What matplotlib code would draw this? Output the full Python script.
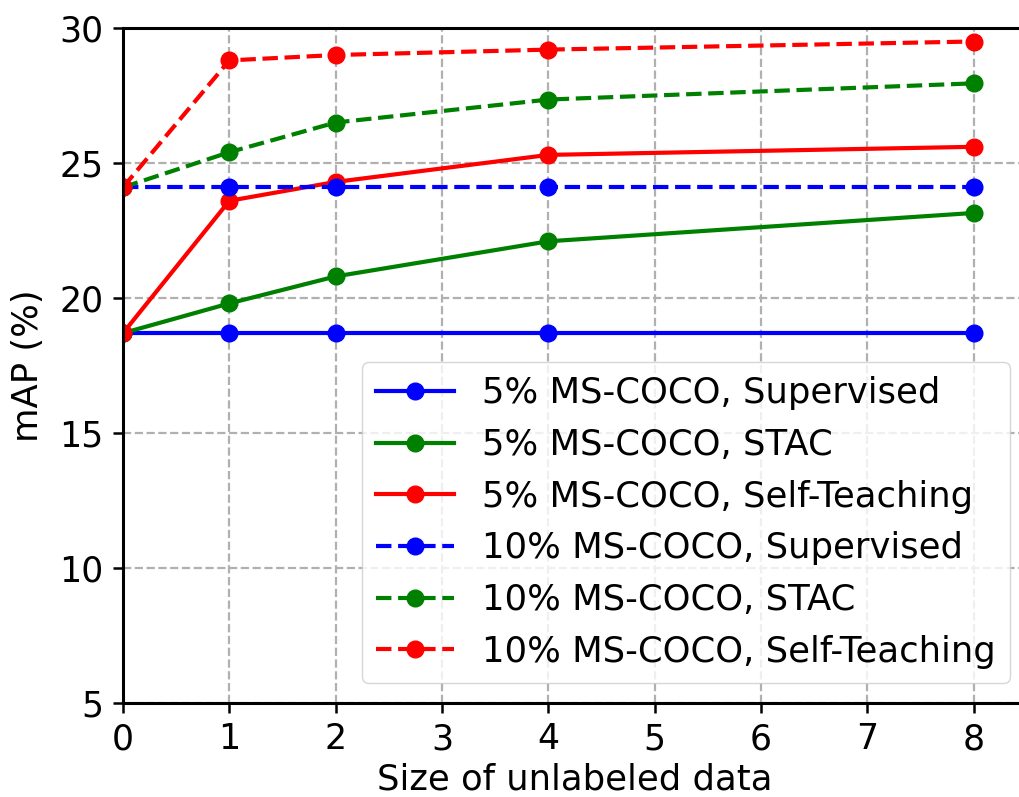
import matplotlib
matplotlib.use('Agg')
import matplotlib.pyplot as plt

# unlabeled data sizes and mAP values
x = [0, 1, 2, 4, 8]

sup_5 = [18.7, 18.7, 18.7, 18.7, 18.7]
stac_5 = [18.7, 19.8, 20.8, 22.1, 23.15]
st_5 = [18.7, 23.6, 24.3, 25.3, 25.6]
sup_10 = [24.1, 24.1, 24.1, 24.1, 24.1]
stac_10 = [24.1, 25.4, 26.5, 27.35, 27.95]
st_10 = [24.1, 28.8, 29.0, 29.2, 29.5]

labels = ['5% MS-COCO, Supervised', '5% MS-COCO, STAC', '5% MS-COCO, Self-Teaching',
          '10% MS-COCO, Supervised', '10% MS-COCO, STAC', '10% MS-COCO, Self-Teaching']

W, H = 1020, 797
fig = plt.figure(figsize=(W / 100, H / 100), dpi=100)
# axes run slightly past the right edge, like the cropped original
ax = fig.add_axes([123 / W, (H - 703) / H, (1027 - 123) / W, (703 - 28) / H])

style = dict(linewidth=3, markersize=12, marker='o')
ax.plot(x, sup_5, color='blue', linestyle='-', label=labels[0], **style)
ax.plot(x, stac_5, color='green', linestyle='-', label=labels[1], **style)
ax.plot(x, st_5, color='red', linestyle='-', label=labels[2], **style)
ax.plot(x, sup_10, color='blue', linestyle='--', label=labels[3], **style)
ax.plot(x, stac_10, color='green', linestyle='--', label=labels[4], **style)
ax.plot(x, st_10, color='red', linestyle='--', label=labels[5], **style)

ax.set_xlim(0, 8.5)
ax.set_ylim(5, 30)
ax.set_xticks(range(9))
ax.set_yticks(range(5, 31, 5))
ax.tick_params(labelsize=25, length=7, width=1.8, pad=7)
for s in ax.spines.values():
    s.set_linewidth(2.2)
ax.grid(True, linestyle='--', color='#b0b0b0', linewidth=1.6)

ax.set_xlabel('Size of unlabeled data', fontsize=25.5, labelpad=4)
ax.set_ylabel('mAP (%)', fontsize=25.5, labelpad=10)

ax.legend(loc='lower right', bbox_to_anchor=(1010 / W, (H - 683) / H),
          bbox_transform=fig.transFigure, borderaxespad=0, fontsize=25.5,
          handlelength=2.2)

fig.savefig('out.png', dpi=100)
